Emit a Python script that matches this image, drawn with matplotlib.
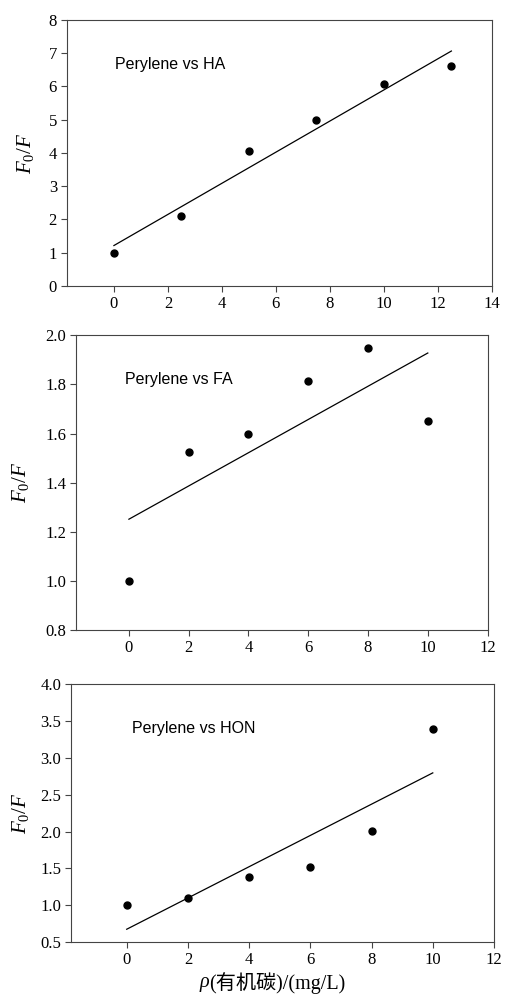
import numpy as np
import matplotlib
matplotlib.use("Agg")
from matplotlib import pyplot as plt
from matplotlib import transforms

plt.rcParams['font.family'] = ['Liberation Serif', 'Noto Sans CJK SC']
plt.rcParams['mathtext.fontset'] = 'custom'
plt.rcParams['mathtext.rm'] = 'Liberation Serif'
plt.rcParams['mathtext.it'] = 'Liberation Serif:italic'

# data
ha_x = [0, 2.5, 5, 7.5, 10, 12.5]
ha_y = [1.0, 2.1, 4.07, 4.98, 6.07, 6.62]
fa_x = [0, 2, 4, 6, 8, 10]
fa_y = [1.0, 1.525, 1.6, 1.812, 1.95, 1.65]
hon_x = [0, 2, 4, 6, 8, 10]
hon_y = [1.0, 1.1, 1.38, 1.52, 2.01, 3.4]
labels = ["Perylene vs HA", "Perylene vs FA", "Perylene vs HON"]


def draw_panel(ax, x, y, label, xlim, ylim, xticks, yticks, text_pos, ylab_x):
  x = np.array(x, dtype=float)
  y = np.array(y, dtype=float)
  k, b = np.polyfit(x, y, 1)
  ax.plot([x[0], x[-1]], [k * x[0] + b, k * x[-1] + b], color='black', lw=0.9)
  ax.plot(x, y, 'o', color='black', ms=5, zorder=3)
  ax.set_xlim(*xlim)
  ax.set_ylim(*ylim)
  ax.set_xticks(xticks)
  ax.set_yticks(yticks)
  ax.tick_params(direction='out', length=4, width=0.8, labelsize=12,
                 color='#444444', pad=3, top=False, right=False)
  for s in ax.spines.values():
    s.set_linewidth(0.8)
    s.set_color('#444444')
  ax.set_ylabel(r'$F_0/F$', fontsize=15)
  # label x in figure fraction, y centred on the axes
  trans = transforms.blended_transform_factory(ax.figure.transFigure, ax.transAxes)
  ax.yaxis.set_label_coords(ylab_x, 0.5, transform=trans)
  ax.text(text_pos[0], text_pos[1], label, transform=ax.transAxes,
          family='Liberation Sans', fontsize=11.5, va='center', ha='left')


fig = plt.figure(figsize=(5.05, 9.97), dpi=100)
ax1 = fig.add_axes([0.132, 0.7131, 0.842, 0.267])
ax2 = fig.add_axes([0.1505, 0.3681, 0.815, 0.2956])
ax3 = fig.add_axes([0.1406, 0.0552, 0.8376, 0.2584])

draw_panel(ax1, ha_x, ha_y, labels[0], (-1.75, 14), (0, 8),
           np.arange(0, 15, 2), np.arange(0, 9, 1), (0.114, 0.831), 0.071)
draw_panel(ax2, fa_x, fa_y, labels[1], (-1.77, 12), (0.8, 2.0),
           np.arange(0, 13, 2), np.arange(0.8, 2.01, 0.2), (0.119, 0.851), 0.061)
draw_panel(ax3, hon_x, hon_y, labels[2], (-1.82, 12), (0.5, 4.0),
           np.arange(0, 13, 2), np.arange(0.5, 4.01, 0.5), (0.1435, 0.827), 0.061)

ax2.yaxis.set_major_formatter(matplotlib.ticker.FormatStrFormatter('%.1f'))
ax3.yaxis.set_major_formatter(matplotlib.ticker.FormatStrFormatter('%.1f'))

xl = ax3.set_xlabel('(有机碳)/(mg/L)', fontsize=14.5)
ax3.xaxis.set_label_coords(0.487, -0.115)
ax3.annotate('ρ', xy=(0, 0.5), xycoords=xl, ha='right', va='center',
             fontsize=14.5, style='italic')

fig.savefig('out.png', dpi=100)
